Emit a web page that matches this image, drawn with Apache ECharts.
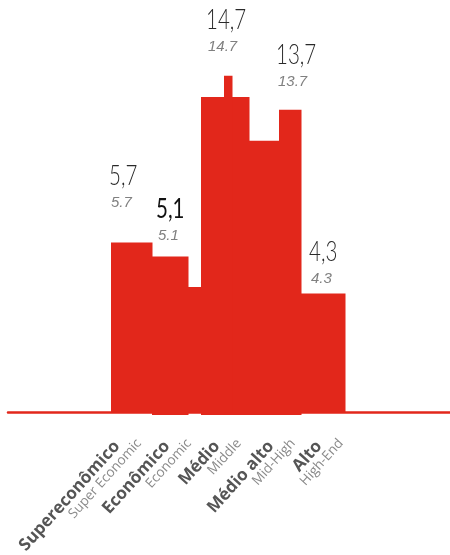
<!DOCTYPE html>
<html>
<head>
<meta charset="utf-8">
<script src="https://cdn.jsdelivr.net/npm/echarts@6/dist/echarts.min.js"></script>
<style>
  html, body { margin: 0; padding: 0; background: #fff; }
  #chart { width: 450px; height: 555px; }
</style>
</head>
<body>
<div id="chart"></div>
<script>
// step segments of the red block (x in axis units, heights in axis units)
const segStart  = [22.2, 30.4, 37.6, 40.2, 44.8, 49.8, 55.8, 60.2];
const segEnd    = [30.4, 37.6, 40.2, 49.8, 46.4, 55.8, 60.2, 69.0];
const segHeight = [7.42, 6.81, 5.48, 13.77, 14.69, 11.86, 13.21, 5.19];
const segBase   = [0, -0.11, 0, -0.11, 0, -0.11, -0.11, 0];

// values printed above the block
const values = [5.7, 5.1, 14.7, 13.7, 4.3];
const valueX = [22, 31.4, 41.4, 55.4, 62];
const valueY = [10.84, 9.40, 17.65, 16.12, 7.53];

// categories
const categoriesPt = ['Supereconômico', 'Econômico', 'Médio', 'Médio alto', 'Alto'];
const categoriesEn = ['Super Economic', 'Economic', 'Middle', 'Mid-High', 'High-End'];
const categoryX = [23.2, 33.2, 43.2, 54, 63.6];

const RED = '#e2271b';
const LABEL_ROTATE = 48 * Math.PI / 180;

const chart = echarts.init(document.getElementById('chart'));

const option = {
  animation: false,
  grid: { left: 8, right: 0, top: 0, bottom: 142.5 },
  xAxis: {
    type: 'value',
    min: 1.6,
    max: 90,
    axisLine: { show: true, lineStyle: { color: RED, width: 2.5 } },
    axisTick: { show: false },
    axisLabel: { show: false },
    splitLine: { show: false }
  },
  yAxis: {
    type: 'value',
    min: 0,
    max: 18,
    show: false,
    splitLine: { show: false }
  },
  series: [
    {
      type: 'custom',
      data: segStart.map((s, i) => [s, segEnd[i], segHeight[i], segBase[i]]),
      renderItem: function (params, api) {
        const p0 = api.coord([api.value(0), api.value(2)]);
        const p1 = api.coord([api.value(1), api.value(3)]);
        return {
          type: 'rect',
          shape: { x: p0[0], y: p0[1], width: p1[0] - p0[0] + 0.5, height: p1[1] - p0[1] },
          style: { fill: RED }
        };
      }
    },
    {
      type: 'custom',
      data: values.map((v, i) => [valueX[i], valueY[i], v]),
      renderItem: function (params, api) {
        const i = params.dataIndex;
        const p = api.coord([api.value(0), api.value(1)]);
        const v = values[i];
        const strong = i === 1;
        return {
          type: 'group',
          children: [
            {
              type: 'text',
              x: p[0] - 1,
              y: p[1] - 1,
              scaleX: 0.76,
              style: {
                text: v.toFixed(1).replace('.', ','),
                font: (strong ? '400 ' : '300 ') + '27px Lato, sans-serif',
                fill: strong ? '#111' : '#2a2a2a',
                align: 'left',
                verticalAlign: 'top'
              }
            },
            {
              type: 'text',
              x: p[0] + 1,
              y: p[1] + 31.5,
              style: {
                text: v.toFixed(1),
                font: 'italic 15px "Liberation Sans", sans-serif',
                fill: '#808080',
                align: 'left',
                verticalAlign: 'top'
              }
            }
          ]
        };
      }
    },
    {
      type: 'custom',
      data: categoryX.map((x) => [x, 0]),
      renderItem: function (params, api) {
        const i = params.dataIndex;
        const p = api.coord([api.value(0), 0]);
        return {
          type: 'group',
          children: [
            {
              type: 'text',
              x: p[0] + 1,
              y: p[1] + 31,
              rotation: LABEL_ROTATE,
              style: {
                text: categoriesPt[i],
                font: 'bold 17px "Open Sans", sans-serif',
                fill: '#555',
                align: 'right',
                verticalAlign: 'middle'
              }
            },
            {
              type: 'text',
              x: p[0] + 23,
              y: p[1] + 28.5,
              rotation: LABEL_ROTATE,
              style: {
                text: categoriesEn[i],
                font: '13.5px "Open Sans", sans-serif',
                fill: '#8a8a8a',
                align: 'right',
                verticalAlign: 'middle'
              }
            }
          ]
        };
      }
    }
  ]
};

chart.setOption(option);
</script>
</body>
</html>
